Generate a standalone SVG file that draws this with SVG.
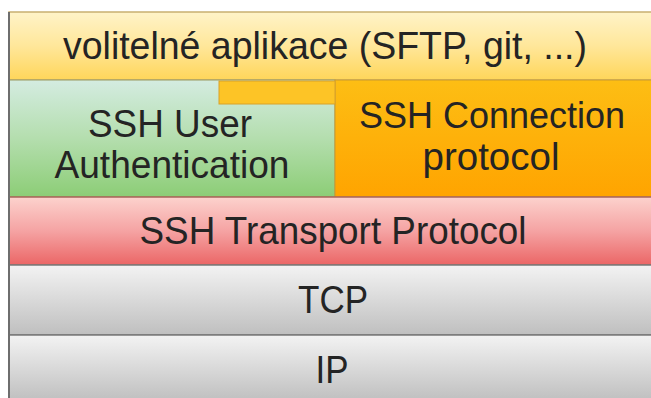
<svg xmlns="http://www.w3.org/2000/svg" width="651" height="398" viewBox="0 0 651 398">
  <defs>
    <linearGradient id="gYellow" x1="0" y1="0" x2="0" y2="1">
      <stop offset="0" stop-color="#fff3c8"/>
      <stop offset="0.5" stop-color="#ffe79a"/>
      <stop offset="1" stop-color="#ffd65a"/>
    </linearGradient>
    <linearGradient id="gGreen" x1="0" y1="0" x2="0" y2="1">
      <stop offset="0" stop-color="#d4ece1"/>
      <stop offset="0.5" stop-color="#b4deae"/>
      <stop offset="1" stop-color="#8ccd76"/>
    </linearGradient>
    <linearGradient id="gOrange" x1="0" y1="0" x2="0" y2="1">
      <stop offset="0" stop-color="#fdbe14"/>
      <stop offset="1" stop-color="#ffa400"/>
    </linearGradient>
    <linearGradient id="gRed" x1="0" y1="0" x2="0" y2="1">
      <stop offset="0" stop-color="#fcd2cd"/>
      <stop offset="0.5" stop-color="#f5a3a3"/>
      <stop offset="1" stop-color="#eb6666"/>
    </linearGradient>
    <linearGradient id="gGrey" x1="0" y1="0" x2="0" y2="1">
      <stop offset="0" stop-color="#f3f3f3"/>
      <stop offset="1" stop-color="#bfbfbf"/>
    </linearGradient>
  </defs>
  <style>
    .lbl { font-family: "Liberation Sans", Arial, sans-serif; font-size: 39px; fill: #242424; text-anchor: middle; }
  </style>
  <rect x="0" y="0" width="651" height="398" fill="#ffffff"/>

  <g id="apps">
    <rect x="9" y="12" width="643" height="68" fill="url(#gYellow)" stroke="#c9b070" stroke-width="1.5"/>
    <text class="lbl" x="325" y="59" textLength="524" lengthAdjust="spacingAndGlyphs">volitelné aplikace (SFTP, git, ...)</text>
  </g>

  <g id="userauth">
    <rect x="9" y="80" width="326" height="117" fill="url(#gGreen)" stroke="#9a9a60" stroke-width="1"/>
    <text class="lbl" x="170" y="137" textLength="164" lengthAdjust="spacingAndGlyphs">SSH User</text>
    <text class="lbl" x="172" y="178" textLength="235" lengthAdjust="spacingAndGlyphs">Authentication</text>
  </g>

  <g id="connection">
    <rect x="335" y="80" width="317" height="117" fill="url(#gOrange)" stroke="#c99a30" stroke-width="1"/>
    <rect x="219" y="81" width="116" height="23" fill="#fdc426" stroke="#d8a22a" stroke-width="1"/>
    <text class="lbl" x="492" y="128" style="font-size:37px" textLength="266" lengthAdjust="spacingAndGlyphs">SSH Connection</text>
    <text class="lbl" x="491" y="170" textLength="137" lengthAdjust="spacingAndGlyphs">protocol</text>
  </g>

  <g id="transport">
    <rect x="9" y="197" width="643" height="68" fill="url(#gRed)" stroke="#a8645a" stroke-width="1.5"/>
    <text class="lbl" x="333" y="244" textLength="387" lengthAdjust="spacingAndGlyphs">SSH Transport Protocol</text>
  </g>

  <g id="tcp">
    <rect x="9" y="265" width="643" height="70" fill="url(#gGrey)" stroke="#7a7a7a" stroke-width="1.5"/>
    <text class="lbl" x="333" y="313" textLength="70" lengthAdjust="spacingAndGlyphs">TCP</text>
  </g>

  <g id="ip">
    <rect x="9" y="335" width="643" height="66" fill="url(#gGrey)" stroke="#7a7a7a" stroke-width="1.5"/>
    <text class="lbl" x="332" y="383" textLength="33" lengthAdjust="spacingAndGlyphs">IP</text>
  </g>

  <line x1="9" y1="12" x2="9" y2="398" stroke="#6e6e6e" stroke-width="2"/>
</svg>
